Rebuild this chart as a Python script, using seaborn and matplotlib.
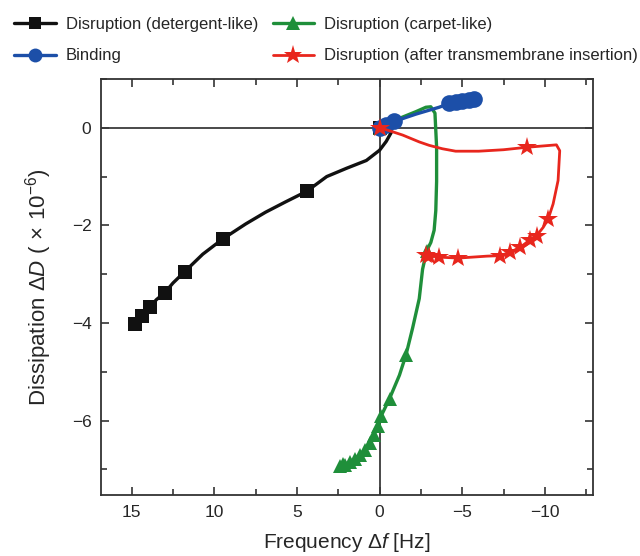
import matplotlib
matplotlib.use('Agg')
import matplotlib.pyplot as plt
import seaborn as sns
from matplotlib.lines import Line2D
from matplotlib.ticker import MultipleLocator

# detergent-like disruption
det_f = [0, -0.4, -0.7, -0.4, 0.0, 0.8, 2.0, 3.2, 4.4, 5.7, 6.9, 8.1, 9.5, 10.7, 11.8,
         12.5, 13.0, 13.5, 13.9, 14.4, 14.8]
det_d = [0, -0.03, -0.1, -0.28, -0.46, -0.67, -0.83, -1.0, -1.3, -1.52, -1.73, -1.97, -2.28,
         -2.59, -2.95, -3.18, -3.38, -3.52, -3.67, -3.85, -4.03]
det_mark = [0, 8, 12, 14, 16, 18, 19, 20]

# carpet-like disruption
carp_f = [0, -0.6, -1.4, -2.2, -2.8, -3.1, -3.35, -3.45, -3.45, -3.4, -3.3, -3.1, -2.85,
          -2.6, -2.4, -2.0, -1.6, -1.2, -0.6, -0.1, 0.1, 0.35, 0.6, 0.9, 1.2, 1.5, 1.8,
          2.1, 2.4, 2.2]
carp_d = [0, 0.1, 0.22, 0.33, 0.42, 0.43, 0.3, -0.4, -1.1, -1.7, -2.1, -2.35, -2.52,
          -2.9, -3.5, -4.1, -4.65, -5.07, -5.55, -5.9, -6.1, -6.3, -6.45, -6.6, -6.7,
          -6.78, -6.84, -6.9, -6.92, -6.88]
carp_mark = [0, 12, 16, 18, 19, 20, 21, 22, 23, 24, 25, 26, 27, 28, 29]

# binding
bind_f = [0, -0.4, -0.9, -1.5, -2.2, -3.0, -3.6, -4.0, -4.2, -4.6, -5.0, -5.4, -5.7]
bind_d = [0, 0.05, 0.13, 0.2, 0.28, 0.36, 0.42, 0.47, 0.5, 0.53, 0.55, 0.57, 0.58]
bind_mark = [0, 1, 2, 8, 9, 10, 11, 12]

# disruption after transmembrane insertion
tm_f = [0, -0.5, -1.4, -2.4, -3.0, -3.8, -4.6, -6.0, -7.5, -8.9, -10.7, -10.9, -10.8,
        -10.5, -10.2, -9.9, -9.5, -9.1, -8.5, -7.9, -7.3, -6.5, -4.75, -3.6, -3.0, -2.8]
tm_d = [0, -0.05, -0.15, -0.29, -0.36, -0.43, -0.48, -0.48, -0.45, -0.4, -0.35, -0.47,
        -1.08, -1.56, -1.87, -2.04, -2.21, -2.3, -2.45, -2.55, -2.62, -2.63, -2.67,
        -2.65, -2.62, -2.6]
tm_mark = [0, 9, 14, 16, 17, 18, 19, 20, 22, 23, 24, 25]

labels = ['Disruption (detergent-like)', 'Binding',
          'Disruption (carpet-like)', 'Disruption (after transmembrane insertion)']

sns.set_style('ticks')
plt.rcParams['font.family'] = ['Liberation Sans', 'DejaVu Sans']
plt.rcParams['mathtext.fontset'] = 'custom'
plt.rcParams['mathtext.rm'] = 'Liberation Sans'
plt.rcParams['mathtext.it'] = 'Liberation Sans:italic'

black = '#111111'
green = '#1f8f3a'
blue = '#1c4fa8'
red = '#e8261d'

fig = plt.figure(figsize=(6.4, 5.56), dpi=100)
ax = fig.add_axes([0.158, 0.11, 0.769, 0.748])

ax.axhline(0, color='#3a3a3a', lw=1.3, zorder=1)
ax.axvline(0, color='#3a3a3a', lw=1.3, zorder=1)

sns.lineplot(x=det_f, y=det_d, sort=False, estimator=None, color=black, lw=2.4,
             marker='s', markersize=10, markevery=det_mark, markeredgewidth=0, ax=ax)
sns.lineplot(x=carp_f, y=carp_d, sort=False, estimator=None, color=green, lw=2.4,
             marker='^', markersize=10.5, markevery=carp_mark, markeredgewidth=0, ax=ax)
sns.lineplot(x=bind_f, y=bind_d, sort=False, estimator=None, color=blue, lw=2.4,
             marker='o', markersize=12, markevery=bind_mark, markeredgewidth=0, ax=ax)
sns.lineplot(x=tm_f, y=tm_d, sort=False, estimator=None, color=red, lw=2.0,
             marker='*', markersize=15, markevery=tm_mark, markeredgewidth=0, ax=ax)

ax.set_xlim(16.85, -12.93)
ax.set_ylim(-7.52, 1.0)
ax.xaxis.set_major_locator(MultipleLocator(5))
ax.xaxis.set_minor_locator(MultipleLocator(2.5))
ax.yaxis.set_major_locator(MultipleLocator(2))
ax.yaxis.set_minor_locator(MultipleLocator(1))
ax.tick_params(which='both', direction='in', top=True, right=True,
               color='#333333', width=1.2)
ax.tick_params(which='major', length=6, labelsize=12.5, pad=7)
ax.tick_params(which='minor', length=4)
for s in ax.spines.values():
    s.set_color('#333333')
    s.set_linewidth(1.3)

ax.set_xlabel(r'Frequency $\Delta \mathit{f}$ [Hz]', fontsize=15, labelpad=8)
ax.set_ylabel(r'Dissipation $\Delta \mathit{D}$ ($\,\times\,$10$^{-6}$)', fontsize=16, labelpad=13)

handles = [
    Line2D([], [], color=black, lw=2.4, marker='s', markersize=9, markeredgewidth=0),
    Line2D([], [], color=blue, lw=2.4, marker='o', markersize=10, markeredgewidth=0),
    Line2D([], [], color=green, lw=2.4, marker='^', markersize=10, markeredgewidth=0),
    Line2D([], [], color=red, lw=2.0, marker='*', markersize=14, markeredgewidth=0),
]
fig.legend(handles, labels, loc='upper left', bbox_to_anchor=(0.012, 0.982), ncol=2,
           frameon=False, fontsize=12, handlelength=2.5, handletextpad=0.6,
           columnspacing=0.85, labelspacing=1.0, borderaxespad=0)

fig.savefig('out.png', dpi=100)
